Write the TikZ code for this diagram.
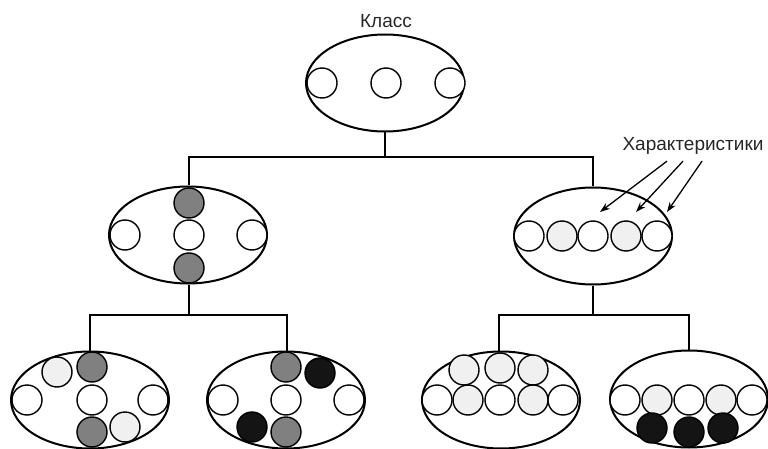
\documentclass[tikz,border=0pt]{standalone}
\usepackage{fontspec}
\setmainfont{Liberation Sans}
\usetikzlibrary{shapes.geometric,arrows.meta}
\tikzset{
  oval/.style={draw=black, line width=2pt, ellipse, minimum width=158pt, minimum height=97pt, inner sep=0pt},
  ch/.style={circle, draw=black, line width=1.4pt, minimum size=30pt, inner sep=0pt},
  wh/.style={ch, fill=white},
  lt/.style={ch, fill=gray!12},
  gr/.style={ch, fill=gray!100},
  bk/.style={ch, fill=black!92},
  conn/.style={line width=1.8pt},
  arr/.style={line width=1.3pt, -{Stealth[length=10pt,width=7pt]}},
  lbl/.style={font=\fontsize{19}{22}\selectfont, text=black!85, inner sep=0pt, anchor=base}
}
\begin{document}
\begin{tikzpicture}[x=1pt, y=-1pt]
\useasboundingbox (0,0) rectangle (768,449);
% ellipses
\node[oval] (top) at (385,83) {};
\node[oval] (ml) at (188,235) {};
\node[oval] (mr) at (593,236) {};
\node[oval] (b1) at (90,400) {};
\node[oval] (b2) at (286,400) {};
\node[oval] (b3) at (501,400) {};
\node[oval] (b4) at (689,399) {};
% labels
\node[lbl] (klass) at (386,28) {Класс};
\node[lbl] (har) at (693,151) {Характеристики};
% connectors
\coordinate (h1) at (385,157);
\coordinate (h2) at (189,315);
\coordinate (h3) at (593,315);
\draw[conn] (top.south) -- (h1);
\draw[conn] (ml.north -| 189,0) |- (h1) -| (mr.north);
\draw[conn] (ml.south -| 189,0) -- (h2);
\draw[conn] (b1.north) |- (h2) -| (b2.north -| 287,0);
\draw[conn] (mr.south) -- (h3);
\draw[conn] (b3.north -| 499,0) |- (h3) -| (b4.north);
% top circles
\node[wh] (t1) at (322,83) {};
\node[wh] (t2) at (386,83) {};
\node[wh] (t3) at (450,83) {};
% middle left
\node[gr] (ml1) at (189,203) {};
\node[wh] (ml2) at (189,235) {};
\node[gr] (ml3) at (189,268) {};
\node[wh] (ml4) at (125,235) {};
\node[wh] (ml5) at (252,235) {};
% middle right
\node[wh] (mr1) at (529,236) {};
\node[lt] (mr2) at (562,236) {};
\node[wh] (mr3) at (593,236) {};
\node[lt] (mr4) at (626,236) {};
\node[wh] (mr5) at (657,236) {};
% bottom 1
\node[lt] (p1) at (57,372) {};
\node[gr] (p2) at (92,367) {};
\node[wh] (p3) at (27,400) {};
\node[wh] (p4) at (92,400) {};
\node[wh] (p5) at (153,400) {};
\node[gr] (p6) at (92,432) {};
\node[lt] (p7) at (125,427) {};
% bottom 2
\node[gr] (q1) at (286,367) {};
\node[bk] (q2) at (320,373) {};
\node[wh] (q3) at (223,400) {};
\node[wh] (q4) at (286,400) {};
\node[wh] (q5) at (349,400) {};
\node[bk] (q6) at (252,427) {};
\node[gr] (q7) at (286,432) {};
% bottom 3
\node[lt] (r1) at (464,370) {};
\node[lt] (r2) at (500,368) {};
\node[lt] (r3) at (533,370) {};
\node[wh] (r4) at (437,400) {};
\node[lt] (r5) at (468,400) {};
\node[wh] (r6) at (500,400) {};
\node[lt] (r7) at (533,400) {};
\node[wh] (r8) at (563,400) {};
% bottom 4
\node[wh] (s1) at (625,400) {};
\node[lt] (s2) at (657,400) {};
\node[wh] (s3) at (689,400) {};
\node[lt] (s4) at (721,400) {};
\node[wh] (s5) at (752,400) {};
\node[bk] (s6) at (652,428) {};
\node[bk] (s7) at (689,432) {};
\node[bk] (s8) at (723,428) {};
% arrows
\coordinate (e1) at (600,212);
\coordinate (e2) at (636,212);
\coordinate (e3) at (667,212);
\draw[arr] (har.south -| 667,0) ++(0,6) -- (e1);
\draw[arr] (har.south -| 683,0) ++(0,6) -- (e2);
\draw[arr] (har.south -| 702,0) ++(0,6) -- (e3);
\end{tikzpicture}
\end{document}
